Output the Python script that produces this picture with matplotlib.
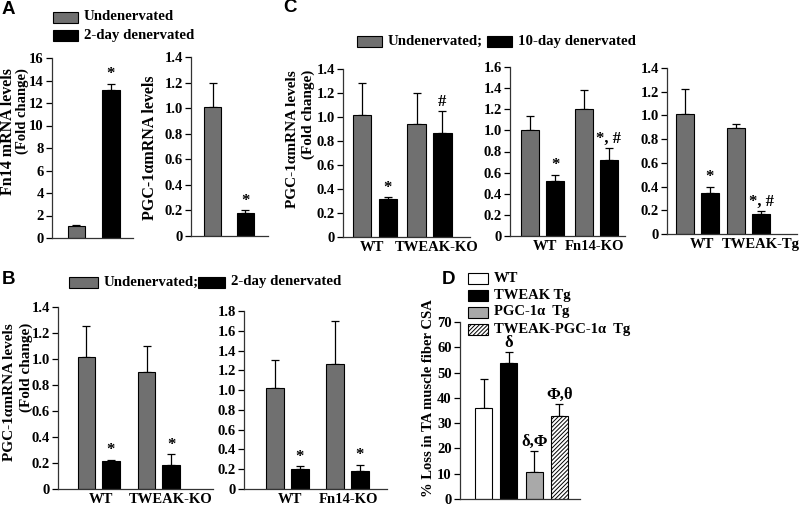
import matplotlib
matplotlib.use("Agg")
import matplotlib.pyplot as plt
from matplotlib.patches import Rectangle
from matplotlib.ticker import FuncFormatter

# ---- data ----
a_fn14 = [1.04, 13.2]
a_fn14_err = [0.08, 0.5]
a_fn14_marks = ["", "*"]

a_pgc = [1.01, 0.18]
a_pgc_err = [0.19, 0.02]
a_pgc_marks = ["", "*"]

b_ko_labels = ["WT", "TWEAK-KO"]
b_tweak_ko = [1.015, 0.218, 0.897, 0.187]
b_tweak_ko_err = [0.24, 0.008, 0.20, 0.083]
b_tweak_ko_marks = ["", "*", "", "*"]

b_fn_labels = ["WT", "Fn14-KO"]
b_fn14_ko = [1.02, 0.204, 1.265, 0.177]
b_fn14_ko_err = [0.28, 0.026, 0.435, 0.068]
b_fn14_ko_marks = ["", "*", "", "*"]

c_ko_labels = ["WT", "TWEAK-KO"]
c_tweak_ko = [1.02, 0.315, 0.94, 0.87]
c_tweak_ko_err = [0.26, 0.015, 0.26, 0.18]
c_tweak_ko_marks = ["", "*", "", "#"]

c_fn_labels = ["WT", "Fn14-KO"]
c_fn14_ko = [1.0, 0.52, 1.2, 0.72]
c_fn14_ko_err = [0.14, 0.06, 0.18, 0.11]
c_fn14_ko_marks = ["", "*", "", "*, #"]

c_tg_labels = ["WT", "TWEAK-Tg"]
c_tweak_tg = [1.015, 0.35, 0.89, 0.17]
c_tweak_tg_err = [0.21, 0.05, 0.035, 0.02]
c_tweak_tg_marks = ["", "*", "", "*, #"]

d_groups = ["WT", "TWEAK Tg", "PGC-1\u03b1  Tg", "TWEAK-PGC-1\u03b1  Tg"]
d_loss = [35.8, 53.6, 10.5, 33.0]
d_loss_err = [11.5, 4.5, 8.3, 4.4]
d_marks = ["", "\u03b4", "\u03b4,\u03a6", "\u03a6,\u03b8"]

# ---- style ----
W, H = 800, 508
GRAY = "#707070"
LIGHT = "#a9a9a9"
HATCH = "////////"
plt.rcParams["font.family"] = ["Liberation Serif", "DejaVu Serif"]
plt.rcParams["font.weight"] = "bold"
plt.rcParams["hatch.linewidth"] = 0.7

fig = plt.figure(figsize=(W / 100, H / 100), dpi=100)


def px_axes(x0, x1, y_bot, y_top):
    return fig.add_axes([x0 / W, 1 - y_bot / H, (x1 - x0) / W, (y_bot - y_top) / H])


def fmt1(v, pos):
    return "0" if abs(v) < 1e-9 else "%.1f" % v


def style(ax, ymax, step, fmt=None):
    ax.set_ylim(0, ymax)
    ax.set_yticks([i * step for i in range(int(round(ymax / step)) + 1)])
    if fmt:
        ax.yaxis.set_major_formatter(FuncFormatter(fmt))
    for s in ["top", "right"]:
        ax.spines[s].set_visible(False)
    for s in ["left", "bottom"]:
        ax.spines[s].set_linewidth(0.9)
        ax.spines[s].set_color("#333333")
    ax.tick_params(axis="y", direction="out", length=4, width=0.9, labelsize=10.5, pad=2)
    ax.tick_params(axis="x", length=0, labelsize=10.5, pad=3)
    for t in ax.get_yticklabels():
        t.set_fontweight("bold")
    ax.patch.set_alpha(0)


def bars(ax, pos, vals, errs, colors, width, marks, hatches=None):
    n = len(vals)
    ax.bar(pos, vals, width=width, color=colors, edgecolor="black", linewidth=0.8,
           hatch=hatches, zorder=2)
    ax.errorbar(pos, vals, yerr=[[0] * n, errs], fmt="none", ecolor="black",
                elinewidth=0.9, capsize=3, capthick=0.9, zorder=1)
    for p, v, e, m in zip(pos, vals, errs, marks):
        if m:
            ax.annotate(m, (p, v + e), xytext=(0, 1), textcoords="offset points",
                        ha="center", va="bottom", fontsize=12, fontweight="bold")


def group_panel(ax, vals, errs, marks, labels, gap, xlo, xhi, ymax, step, lab_pos):
    pos = [0, 1, gap, gap + 1]
    bars(ax, pos, vals, errs, [GRAY, "black", GRAY, "black"], 0.72, marks)
    ax.set_xlim(xlo, xhi)
    style(ax, ymax, step, fmt1)
    ax.set_xticks(lab_pos)
    ax.set_xticklabels(labels, fontweight="bold")


def legend_row(x, y, color, text, w=25, h=11, size=10.7, hatch=None):
    fig.patches.append(Rectangle((x / W, 1 - (y + h / 2) / H), w / W, h / H,
                                 transform=fig.transFigure, facecolor=color,
                                 edgecolor="black", linewidth=0.8, hatch=hatch))
    fig.text((x + w + 6) / W, 1 - y / H, text, ha="left", va="center",
             fontsize=size, fontweight="bold")


def ylab(x, y_top, text, size=11):
    fig.text(x / W, 1 - y_top / H, text, rotation=90, ha="center", va="top",
             fontsize=size, fontweight="bold")


# ---- panel A ----
ax = px_axes(52, 133, 238, 58)
bars(ax, [0, 1], a_fn14, a_fn14_err, [GRAY, "black"], 0.5, a_fn14_marks)
ax.set_xlim(-0.71, 1.64)
style(ax, 16, 2)
ax.set_xticks([])

ax = px_axes(191, 268, 236, 57)
bars(ax, [0, 1], a_pgc, a_pgc_err, [GRAY, "black"], 0.52, a_pgc_marks)
ax.set_xlim(-0.66, 1.7)
style(ax, 1.4, 0.2, fmt1)
ax.set_xticks([])

ylab(8, 68, "Fn14 mRNA levels", size=11.5)
ylab(22, 68, "(Fold change)", size=10.5)
ylab(150, 76, "PGC-1\u03b1mRNA levels", size=11.5)
legend_row(53, 17, GRAY, "Undenervated")
legend_row(53, 35, "black", "2-day denervated")

# ---- panel C ----
ax = px_axes(343, 470, 237, 69)
group_panel(ax, c_tweak_ko, c_tweak_ko_err, c_tweak_ko_marks, c_ko_labels,
            2.12, -0.75, 4.2, 1.4, 0.2, [0.39, 2.9])
ax = px_axes(510, 625, 236, 67)
group_panel(ax, c_fn14_ko, c_fn14_ko_err, c_fn14_ko_marks, c_fn_labels,
            2.16, -0.8, 3.8, 1.6, 0.2, [0.6, 2.58])
ax = px_axes(667, 797, 234, 68)
group_panel(ax, c_tweak_tg, c_tweak_tg_err, c_tweak_tg_marks, c_tg_labels,
            2.06, -0.72, 4.5, 1.4, 0.2, [0.68, 3.04])
ylab(292, 70, "PGC-1\u03b1mRNA levels")
ylab(308, 70, "(Fold change)")
legend_row(357, 41, GRAY, "Undenervated;")
legend_row(487, 41, "black", "10-day denervated")

# ---- panel B ----
ax = px_axes(58, 213, 489, 307)
group_panel(ax, b_tweak_ko, b_tweak_ko_err, b_tweak_ko_marks, b_ko_labels,
            2.45, -1.16, 5.16, 1.4, 0.2, [0.59, 3.45])
ax = px_axes(244, 387, 489, 311)
group_panel(ax, b_fn14_ko, b_fn14_ko_err, b_fn14_ko_marks, b_fn_labels,
            2.4, -1.24, 4.48, 1.8, 0.2, [0.6, 2.92])
ylab(10, 323, "PGC-1\u03b1mRNA levels")
ylab(26, 323, "(Fold change)")
legend_row(69, 282, GRAY, "Undenervated;", w=29)
legend_row(198, 282, "black", "2-day denervated", w=27)

# ---- panel D ----
ax = px_axes(460, 580, 499, 322)
bars(ax, [0, 1, 2, 3], d_loss, d_loss_err, ["white", "black", LIGHT, "white"], 0.67,
     d_marks, hatches=["", "", "", HATCH])
ax.set_xlim(-0.93, 3.81)
style(ax, 70, 10)
ax.set_xticks([])
fig.text(428 / W, 1 - 398 / H, "% Loss in TA muscle fiber CSA", rotation=90,
         ha="center", va="center", fontsize=10.5, fontweight="bold")
for i, (g, c, h) in enumerate(zip(d_groups, ["white", "black", LIGHT, "white"],
                                   ["", "", "", HATCH])):
    legend_row(468, 278 + 17 * i, c, g, w=20, h=11, size=10.5, hatch=h)

# ---- panel letters ----
for letter, x, y in [("A", 2, 9), ("C", 283, 8), ("B", 2, 280), ("D", 442, 280)]:
    fig.text(x / W, 1 - y / H, letter, ha="left", va="center", fontsize=13.5,
             fontweight="bold", family="Liberation Sans")

fig.savefig("out.png", dpi=100)
